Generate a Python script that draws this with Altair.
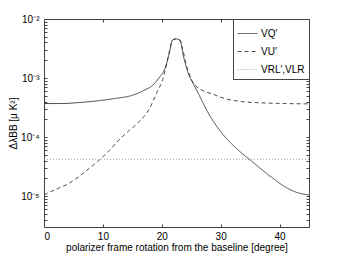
import altair as alt
import pandas as pd

# ---- data ----
x_q = [0, 3, 6, 9, 12, 15, 17, 18.5, 19.5, 20.7, 21.4, 21.8, 22.4, 23.1, 23.7, 24.5,
       25.3, 26.2, 27.9, 30.2, 33, 35, 38.6, 41.4, 43, 45]
v_q = [3.7e-4, 3.7e-4, 3.85e-4, 4.1e-4, 4.5e-4, 5.1e-4, 6.2e-4, 7.6e-4, 1.0e-3, 1.6e-3,
       3.0e-3, 4.4e-3, 4.6e-3, 4.4e-3, 2.3e-3, 1.2e-3, 8.2e-4, 5.5e-4, 2.55e-4, 1.17e-4,
       6e-5, 4.1e-5, 2.1e-5, 1.35e-5, 1.15e-5, 1.05e-5]

x_u = [0, 2, 4.3, 7, 9.4, 11, 12.7, 14.5, 16.1, 17.8, 19.1, 20.3, 21.1, 21.8, 22.4, 23.1,
       23.5, 24.3, 25.0, 26.0, 27.0, 28.5, 30.7, 33.5, 37, 41, 45]
v_u = [1.05e-5, 1.3e-5, 1.66e-5, 2.6e-5, 4.1e-5, 5.8e-5, 8.9e-5, 1.3e-4, 1.8e-4, 2.9e-4,
       5.5e-4, 1.05e-3, 2.3e-3, 4.3e-3, 4.6e-3, 4.3e-3, 3.2e-3, 1.5e-3, 9.5e-4, 7e-4,
       6.1e-4, 5.4e-4, 4.5e-4, 4.0e-4, 3.8e-4, 3.7e-4, 3.65e-4]

x_rl = [0, 45]
v_rl = [4.2e-5, 4.2e-5]

series = ["VQ′", "VU′", "VRL′,VLR"]
dashes = [[1, 0], [4, 3], [1, 2]]
colors = ["#222222", "#222222", "#8a8a8a"]

x_ticks = [0, 10, 20, 30, 40]
y_major = [1e-5, 1e-4, 1e-3, 1e-2]
y_major_labels = ["10⁻⁵", "10⁻⁴", "10⁻³", "10⁻²"]
y_ticks = [k * 10.0 ** d for d in (-6, -5, -4, -3) for k in range(1, 10)
           if 3e-6 <= k * 10.0 ** d <= 1e-2] + [1e-2]

rows = []
for name, xs, vs in zip(series, (x_q, x_u, x_rl), (v_q, v_u, v_rl)):
    for xv, vv in zip(xs, vs):
        rows.append({"x": xv, "v": vv, "series": name})
df = pd.DataFrame(rows)

label_expr = ""
for val, lab in zip(y_major, y_major_labels):
    label_expr += f"datum.value == {val!r} ? '{lab}' : "
label_expr += "''"

xscale = alt.Scale(domain=[0, 45], nice=False, zero=False)
yscale = alt.Scale(type="log", domain=[3e-6, 1e-2], nice=False)

leg = alt.Legend(title=None, orient="top-right", offset=0,
                 symbolType="stroke", symbolSize=400, symbolStrokeWidth=0.8,
                 labelFontSize=10, rowPadding=2, padding=4, strokeColor="#444444",
                 fillColor="white", labelOffset=3)

lines = alt.Chart(df).mark_line(strokeWidth=0.8, interpolate="monotone").encode(
    x=alt.X("x:Q", scale=xscale,
            axis=alt.Axis(orient="bottom", values=x_ticks, offset=-3, tickSize=3,
                          labelPadding=4, grid=False, domain=False,
                          title="polarizer frame rotation from the baseline [degree]",
                          titlePadding=1)),
    y=alt.Y("v:Q", scale=yscale,
            axis=alt.Axis(orient="left", values=y_ticks, offset=-3, tickSize=3,
                          labelPadding=5, labelExpr=label_expr, labelOverlap=False,
                          grid=False, domain=False,
                          title="ΔλBB [μ K²]", titlePadding=2)),
    strokeDash=alt.StrokeDash("series:N",
                              scale=alt.Scale(domain=series, range=dashes),
                              legend=leg),
    color=alt.Color("series:N", scale=alt.Scale(domain=series, range=colors),
                    legend=leg),
    order=alt.Order("x:Q"),
)

frame = alt.Chart(df).mark_line(opacity=0).encode(
    x=alt.X("x:Q", scale=xscale,
            axis=alt.Axis(orient="top", values=x_ticks, offset=-3, tickSize=3,
                          labels=False, grid=False, domain=False, title=None)),
    y=alt.Y("v:Q", scale=yscale,
            axis=alt.Axis(orient="right", values=y_ticks, offset=-3, tickSize=3,
                          labels=False, grid=False, domain=False, title=None)),
    detail="series:N",
)

chart = alt.layer(lines, frame).resolve_axis(x="independent", y="independent").properties(
    width=265, height=208,
    autosize=alt.AutoSizeParams(type="none"),
    padding={"left": 36, "top": 11, "right": 20, "bottom": 40},
).configure_view(stroke="#444444", strokeWidth=1).configure_axis(
    labelFont="Liberation Sans", titleFont="Liberation Sans", labelFontSize=10,
    titleFontSize=10, titleFontWeight="normal", labelColor="black", titleColor="black",
    tickColor="#444444",
).configure_legend(labelFont="Liberation Sans", labelColor="black")

chart.save("out.html", embed_options={"renderer": "svg", "actions": False})
